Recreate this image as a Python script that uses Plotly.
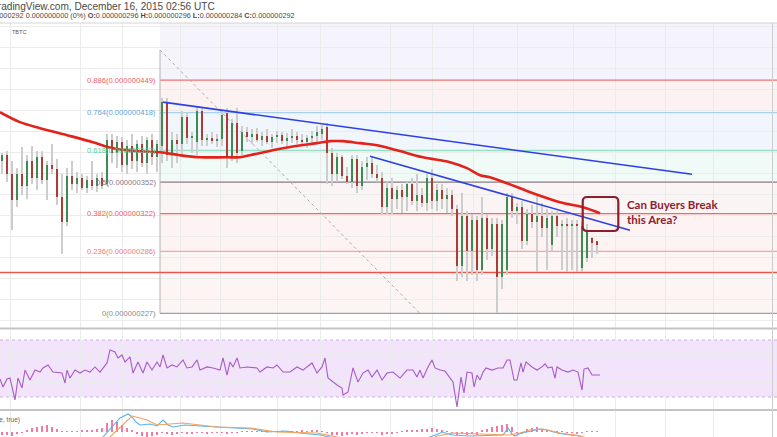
import pandas as pd
import plotly.graph_objects as go

# ---------------- data ----------------
base = pd.Timestamp("2015-12-15 16:58")
bar_times = pd.date_range("2015-12-15 17:00", periods=120, freq="5min")

# prices in units of 1e-9 BTC
opens = [372,378,360,335,360,348,372,356,376,354, 368,364,338,314,358,350,356,346,354,348,
         356,350,392,380,390,368,386,372,388,370, 392,376,386,428,378,392,388,414,394,390,
         420,392,394,391,393,418,376,408,382,400, 395,398,392,396,390,395,397,391,394,396,
         392,390,394,396,398,404,380,360,376,358, 352,374,348,366,370,360,356,328,346,336,
         344,338,350,334,340,332,356,334,344,336, 340,326,272,320,286,316,268,318,288,312,
         262,268,338,324,328,296,322,314,320,308, 292,320,310,312,311,312,270,280,299,296]
highs = [380,382,372,365,385,378,386,382,382,372, 388,374,360,365,372,362,360,358,372,360,
         362,398,398,396,395,392,398,392,396,395, 398,392,432,432,400,398,420,418,400,424,
         422,398,400,398,420,422,412,422,405,404, 402,403,400,402,398,401,400,399,402,400,
         398,397,401,405,406,408,384,380,378,366, 378,378,372,376,376,368,362,352,356,348,
         350,352,356,360,346,360,364,350,350,346, 344,330,342,324,322,320,338,322,318,318,
         316,342,342,332,334,326,330,340,332,326, 324,324,316,318,316,316,314,312,300,296]
lows = [360,352,306,328,340,336,350,344,350,335, 360,330,284,310,344,342,344,342,344,343,
        345,348,370,365,362,360,364,362,366,360, 368,362,370,372,365,370,378,388,380,378,
        386,386,388,385,386,365,372,370,378,390, 388,390,386,388,384,389,388,385,389,388,
        386,384,388,388,392,350,348,352,355,350, 346,342,344,354,356,352,322,322,322,326,
        323,324,330,324,328,324,326,324,326,323, 320,258,262,258,264,258,264,278,282,227,
        250,264,318,312,288,292,308,266,300,268, 286,300,268,266,268,266,266,276,280,284]
closes = [378,360,335,360,348,372,356,376,354,368, 364,338,314,358,350,356,346,354,348,356,
          348,392,380,390,368,386,372,388,370,392, 376,388,428,378,392,388,414,394,396,420,
          392,394,391,393,416,376,408,380,400,395, 398,392,396,390,395,397,391,394,396,392,
          390,394,396,400,402,380,360,376,358,352, 374,348,366,370,360,356,328,346,336,344,
          338,350,334,340,332,356,334,344,336,340, 326,272,320,286,316,268,318,288,312,262,
          312,338,324,328,296,322,314,320,308,318, 320,310,312,311,312,310,310,306,294,292]

# red moving average (minutes after 16:58, price)
ma_minutes = [0,20,40,67,93,113,140,160,180,200,227,240,250,283,317,330,343,360,377,397,
              423,450,467,480,490,507,533,560,583,600]
ma_values = [418.5,409.0,403.3,396.6,389.9,384.2,381.3,380.4,377.5,375.6,375.6,375.6,377.5,
             384.2,389.0,390.9,390.9,389.0,387.1,382.3,375.6,370.9,365.2,358.5,356.6,350.9,
             341.3,332.8,328.0,322.3]

# RSI
rsi_minutes = [0,3,7,10,15,18,22,25,30,35, 40,43,48,53,62,65,67,70,75,80,
               85,90,95,100,107,110,115,118,122,125, 130,133,138,143,147,152,157,160,163,167,
               172,177,183,187,192,197,200,207,213,220, 223,227,230,233,237,240,247,257,260,267,
               273,277,283,290,297,303,312,317,322,325, 328,333,337,342,343,348,353,358,363,368,
               372,377,382,387,393,400,407,413,417,420, 423,428,432,435,440,445,453,457,461,464,
               467,472,474,477,480,483,486,492,498,503, 507,510,514,517,521,523,526,532,537,542,
               545,548,552,555,557,562,568,573,578,582, 584,588,592,595,600]
rsi_values = [42.6,37.0,42.6,43.3,27.9,43.3,36.3,48.9,41.9,48.9, 47.5,50.4,52.5,47.5,46.8,39.8,48.9,43.3,48.9,46.8,
              48.9,47.5,51.1,47.5,53.9,63.0,61.6,57.4,59.5,54.6, 58.1,46.8,54.6,46.8,54.6,48.9,54.6,51.1,59.5,50.4,
              52.5,51.1,56.0,50.4,51.1,56.0,48.9,51.1,50.4,48.9, 57.4,45.4,54.6,51.1,57.4,50.4,51.1,50.4,47.5,51.1,
              50.4,52.5,47.5,47.5,51.1,48.9,53.9,46.8,51.1,57.4, 43.3,40.5,38.4,36.3,31.4,33.5,50.4,40.5,46.8,48.9,
              44.0,48.9,41.9,46.8,47.5,43.3,48.9,48.9,44.0,48.9, 43.3,51.1,56.0,50.4,48.9,48.2,40.5,23.0,44.0,32.8,
              47.5,46.8,37.0,45.4,41.9,47.5,50.4,48.9,50.4,50.4, 56.0,56.0,41.9,41.9,53.9,47.5,54.6,51.1,48.9,51.1,
              53.2,50.4,51.1,43.3,51.1,48.9,47.5,48.9,47.5,34.9, 49.6,50.4,45.4,45.4,45.4]

# MACD (12, 26, close, true) - scaled units
macd_minutes = [0,60,95,103,112,120,128,132,136,140, 150,157,163,168,173,185,200,215,233,253,
                267,285,300,320,330,345,380,420,430,437, 443,448,453,470,490,503,508,512,515,521,
                527,535,540,547,557,570,580,590,600]
macd_values = [-12,-10,-8,-5,5,14,18,15,10,7, 8,6,12,7,5,7,6,5,4,3,
               0,1,-1,-3,-5,-10,-14,-10,-5,-2, 0,-2,-3,-4,-3,-3,4,-2,-4,-1,
               0,2,3,2,-1,-3,-4,-8,-10]
signal_minutes = [0,60,100,110,120,132,140,147,157,170, 183,200,217,250,277,317,337,380,430,437,
                  453,480,510,520,530,543,560,575,583,600]
signal_values = [-14,-12,-9,-5,5,16,14,12,7,8, 9,7,5,4,0,-1,-5,-10,-8,-4,
                 -1,-2,-3,-1,2,3,-1,-3,-5,-9]
hist_values = [-3,-3,-4,-2,-1,2,4,5,6,7, 5,3,1,1,0.5,1,2,2,2.5,3,
               4,9,12,10,7,4,2,-2,-4,-5, -4,-3,-1,-2,-3,-2,-1,-1.5,-2,-1,
               -1,-1.5,-1,-1,-0.5,-2,-1,-1,0.5,0.5, 0.5,1,0.5,0.5,1,1,0.5,0.5,1,1,
               1.5,1,1.5,2,1,-1,-3,-3,-4,-3, -2,-3,-2,-1,-1,-1,-3,-2,-2,-1,
               1,2,2,2.5,3,3.5,4,3,2,1, -1,-3,-2,-3,-2,-3,2,3,5,6,
               7,8,5,-1,-2,3,4,5,3,2, 1,1,0.5,-1,-1,-1.5,-1,1,1,0.5]

# Fibonacci retracement drawing
fib_ratios = ["0.886", "0.764", "0.618", "0.5", "0.382", "0.236", "0"]
fib_prices = [449, 418, 382, 352, 322, 286, 227]
fib_line_colors = ["#f07070", "#a9d1ee", "#96e2c6", "#8c7a82", "#f06a64", "#f4a6a6", "#a0a0a0"]
fib_label_colors = ["#f06262", "#5ea8dc", "#4fcc9e", "#8a7680", "#f05a55", "#f07a78", "#8a8a8a"]
fib_fill_colors = ["#f5f4fc", "#fdf2f2", "#f0f6fc", "#f0faf6", "#fbf4f5", "#fdf3f3", "#fdf5f4"]
fib_start_minute = 160
fib_end_minute = 420
fib_top_price = 477.6
support_price = 266
trend1 = [(163, 428.0), (692, 359.4)]
trend2 = [(370, 376.6), (630, 306.1)]
grid_minutes = [10, 80, 122, 180, 220, 277, 320, 390, 432, 473, 517, 573, 615, 665, 713]


def T(m):
    return base + pd.Timedelta(minutes=m)


X_END = 777
W, H = 777, 437


def py(px):  # paper y from pixel row
    return 1 - px / H


fig = go.Figure()

# candle wicks (grey) and bodies
fig.add_trace(go.Bar(x=bar_times, y=[h - l for h, l in zip(highs, lows)], base=lows,
                     width=2.6 * 60000, marker=dict(color="#cdcdcd", line=dict(width=0)),
                     xaxis="x", yaxis="y", showlegend=False))
body_base = [min(o, c) for o, c in zip(opens, closes)]
body_h = [max(abs(c - o), 0.9) for o, c in zip(opens, closes)]
body_col = ["#3e8b52" if c >= o else "#ad3d34" for o, c in zip(opens, closes)]
fig.add_trace(go.Bar(x=bar_times, y=body_h, base=body_base, width=2.2 * 60000,
                     marker=dict(color=body_col, line=dict(width=0)),
                     xaxis="x", yaxis="y", showlegend=False))
fig.add_trace(go.Scatter(x=[T(m) for m in ma_minutes], y=ma_values, mode="lines",
                         line=dict(color="#e3231b", width=2.6, shape="spline"),
                         xaxis="x", yaxis="y", showlegend=False))

# RSI
fig.add_trace(go.Scatter(x=[T(m) for m in rsi_minutes], y=rsi_values, mode="lines",
                         line=dict(color="#a65bc6", width=1.1), xaxis="x2", yaxis="y2",
                         showlegend=False))

# MACD
fig.add_trace(go.Bar(x=bar_times, y=hist_values, width=2.0 * 60000,
                     marker=dict(color="#f47aa6", line=dict(width=0)),
                     xaxis="x3", yaxis="y3", showlegend=False))
fig.add_trace(go.Scatter(x=[T(m) for m in macd_minutes], y=macd_values, mode="lines",
                         line=dict(color="#56b4f2", width=1.1), xaxis="x3", yaxis="y3",
                         showlegend=False))
fig.add_trace(go.Scatter(x=[T(m) for m in signal_minutes], y=signal_values, mode="lines",
                         line=dict(color="#f5a05a", width=1.1), xaxis="x3", yaxis="y3",
                         showlegend=False))

shapes = []
# fib fills
bounds = [503.3] + fib_prices
for i, col in enumerate(fib_fill_colors):
    shapes.append(dict(type="rect", xref="x", yref="y", x0=T(fib_start_minute), x1=T(X_END),
                       y0=bounds[i + 1], y1=bounds[i], fillcolor=col, line=dict(width=0),
                       layer="below"))
# fib level lines
for p, col in zip(fib_prices, fib_line_colors):
    shapes.append(dict(type="line", xref="x", yref="y", x0=T(fib_start_minute), x1=T(X_END),
                       y0=p, y1=p, line=dict(color=col, width=1.3), layer="between"))
shapes.append(dict(type="line", xref="x", yref="y", x0=T(fib_start_minute), x1=T(fib_start_minute),
                   y0=fib_prices[-1], y1=fib_top_price, line=dict(color="#b4b4b4", width=1),
                   layer="between"))
shapes.append(dict(type="line", xref="x", yref="y", x0=T(fib_start_minute), x1=T(fib_end_minute),
                   y0=fib_top_price, y1=fib_prices[-1], line=dict(color="#aaaaaa", width=1, dash="dot"),
                   layer="between"))
# support line
shapes.append(dict(type="line", xref="x", yref="y", x0=T(0), x1=T(X_END), y0=support_price,
                   y1=support_price, line=dict(color="#e9574c", width=1.5), layer="between"))
# trend lines
for tl in (trend1, trend2):
    shapes.append(dict(type="line", xref="x", yref="y", x0=T(tl[0][0]), x1=T(tl[1][0]),
                       y0=tl[0][1], y1=tl[1][1], line=dict(color="#2d3fe6", width=1.6),
                       layer="above"))
# highlighted area box
hw, hh, r = 17.8, 17.0, 4.5
box_path = (f"M {-hw + r},{-hh} L {hw - r},{-hh} Q {hw},{-hh} {hw},{-hh + r} "
            f"L {hw},{hh - r} Q {hw},{hh} {hw - r},{hh} L {-hw + r},{hh} "
            f"Q {-hw},{hh} {-hw},{hh - r} L {-hw},{-hh + r} Q {-hw},{-hh} {-hw + r},{-hh} Z")
shapes.append(dict(type="path", xref="x", yref="y", xsizemode="pixel", ysizemode="pixel",
                   xanchor=T(600.5), yanchor=321.6, path=box_path,
                   line=dict(color="#8c1d2d", width=2.2), layer="above"))
# RSI band
shapes.append(dict(type="rect", xref="paper", yref="y2", x0=0, x1=1, y0=30, y1=70,
                   fillcolor="#f2e5fb", line=dict(width=0), layer="below"))
for lvl in (30, 70):
    shapes.append(dict(type="line", xref="paper", yref="y2", x0=0, x1=1, y0=lvl, y1=lvl,
                       line=dict(color="#cfade6", width=1, dash="dot"), layer="between"))
# pane separators / borders
for pxrow in (328.5, 410):
    shapes.append(dict(type="line", xref="paper", yref="paper", x0=0, x1=1, y0=py(pxrow),
                       y1=py(pxrow), line=dict(color="#c4c4c4", width=2), layer="above"))
shapes.append(dict(type="line", xref="paper", yref="paper", x0=0, x1=1, y0=py(23), y1=py(23),
                   line=dict(color="#d4d4d4", width=1), layer="above"))
shapes.append(dict(type="line", xref="paper", yref="paper", x0=772.5 / W, x1=772.5 / W,
                   y0=0, y1=py(23), line=dict(color="#cccccc", width=1), layer="above"))

ann = []
for r_, p, col in zip(fib_ratios, fib_prices, fib_label_colors):
    ann.append(dict(xref="x", yref="y", x=T(fib_start_minute), y=p, xanchor="right",
                    yanchor="middle", xshift=-2, showarrow=False,
                    text=f"{r_}({p / 1e9:.9f})", font=dict(size=7.6, color=col)))
ann.append(dict(xref="x", yref="y", x=T(625), y=323.2, xanchor="left", yanchor="middle",
                align="left", showarrow=False, text="<b>Can Buyers Break<br>this Area?</b>",
                font=dict(family="Lato", size=11.5, color="#8c1d2d")))
ann.append(dict(xref="paper", yref="paper", x=-9.8 / W, y=py(6.5), xanchor="left",
                yanchor="middle", showarrow=False,
                text="TradingView.com, December 16, 2015 02:56 UTC",
                font=dict(size=10.1, color="#4a4a4a")))
ann.append(dict(xref="paper", yref="paper", x=297 / W, y=py(15.5), xanchor="right",
                yanchor="middle", showarrow=False,
                text="0.000000292 0.000000000 (0%) <b>O:</b>0.000000296 <b>H:</b>0.000000296 "
                     "<b>L:</b>0.000000284 <b>C:</b>0.000000292",
                font=dict(size=7.3, color="#4a4a4a")))
ann.append(dict(xref="paper", yref="paper", x=9.5 / W, y=py(31.5), xanchor="left",
                yanchor="middle", showarrow=False, text="TBTC",
                font=dict(size=5.5, color="#555555")))
ann.append(dict(xref="paper", yref="paper", x=22 / W, y=py(420), xanchor="right",
                yanchor="middle", showarrow=False, text="MACD (12, 26, close, true)",
                font=dict(size=6.5, color="#666666")))

xcommon = dict(range=[T(0), T(X_END)], showticklabels=False, ticks="",
               tickvals=[T(m) for m in grid_minutes], showgrid=True, gridcolor="#ebebeb",
               gridwidth=1, zeroline=False, showline=False, fixedrange=True)
fig.update_layout(
    width=W, height=H, margin=dict(l=0, r=0, t=0, b=0),
    paper_bgcolor="white", plot_bgcolor="white", barmode="overlay", bargap=0,
    font=dict(family="Liberation Sans"), showlegend=False,
    xaxis=dict(domain=[0, 1], anchor="y", **xcommon),
    xaxis2=dict(domain=[0, 1], anchor="y2", matches="x", **xcommon),
    xaxis3=dict(domain=[0, 1], anchor="y3", matches="x", **xcommon),
    yaxis=dict(domain=[py(328.5), py(23)], range=[212.7, 503.3], tick0=0, dtick=20,
               showticklabels=False, gridcolor="#ececec", zeroline=False),
    yaxis2=dict(domain=[py(409), py(330)], range=[21.58, 77.02], tickvals=[40, 60],
                showticklabels=False, gridcolor="#ececec", zeroline=False),
    yaxis3=dict(domain=[0, py(411)], range=[-5, 21], showticklabels=False,
                showgrid=False, zeroline=False),
    shapes=shapes, annotations=ann,
)

fig.write_html("out.html", config={"displayModeBar": False},
               post_script="document.body.style.margin='0';document.body.style.overflow='hidden';")
